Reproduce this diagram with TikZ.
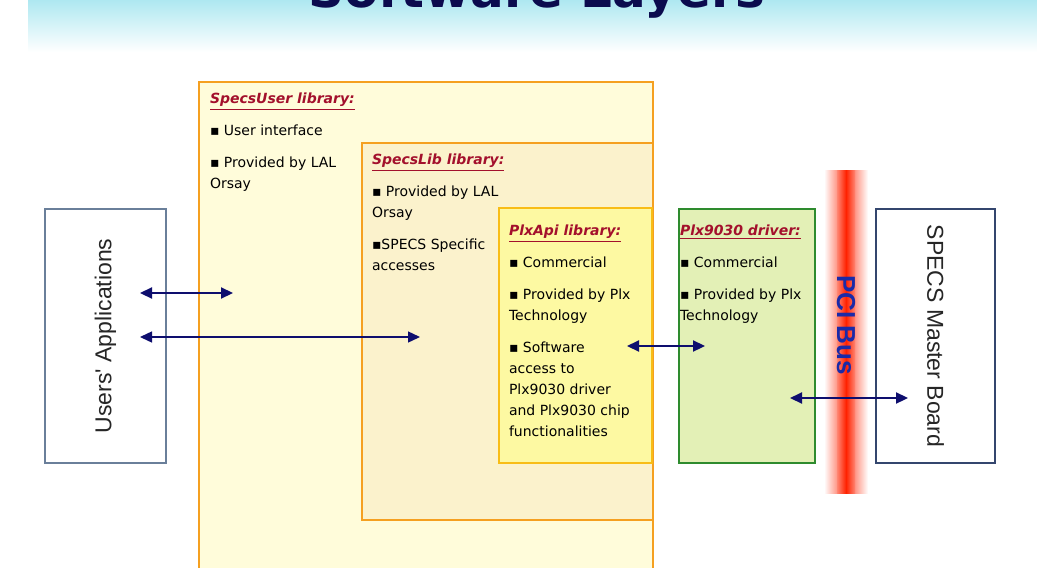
\documentclass[tikz,border=0pt]{standalone}
\usepackage{fontspec}
\setmainfont{DejaVu Sans}
\newfontfamily\boxfont{Liberation Sans}
\usepackage{xcolor}
\usetikzlibrary{arrows.meta, positioning}

\definecolor{headcyan}{HTML}{AEE8F1}
\definecolor{titlenavy}{HTML}{0B0B4E}
\definecolor{layerorange}{HTML}{F5A020}
\definecolor{userfill}{HTML}{FFFCDA}
\definecolor{libfill}{HTML}{FBF2CC}
\definecolor{plxfill}{HTML}{FDF9A2}
\definecolor{drvgreen}{HTML}{2E8B2E}
\definecolor{drvfill}{HTML}{E3F0B6}
\definecolor{titlered}{HTML}{A3102C}
\definecolor{arrownavy}{HTML}{0E0E6E}
\definecolor{pciblue}{HTML}{1A2AA8}
\definecolor{pcired}{HTML}{FF2200}
\definecolor{appsgray}{HTML}{6A7F9A}
\definecolor{boardnavy}{HTML}{34466E}

\newcommand{\layertitle}[1]{\textcolor{titlered}{\textbf{\textit{\underline{#1}}}}}

\begin{document}
\begin{tikzpicture}[
      x=0.5pt, y=-0.5pt,
      every node/.style={inner sep=0pt, outer sep=0pt},
      layer/.style={draw=layerorange, line width=1pt, anchor=north west},
      info/.style={anchor=north west, align=left, font=\fontsize{7}{10.5}\selectfont},
      endbox/.style={draw, fill=white, line width=0.6pt, font=\boxfont\fontsize{11.5}{12}\selectfont},
      link/.style={draw=arrownavy, line width=0.7pt,
        {Triangle[length=6pt,width=5.5pt]}-{Triangle[length=6pt,width=5.5pt]}}
    ]
      \useasboundingbox (0,0) rectangle (1037,567);

      % header band with the cut title
      \shade[top color=headcyan, bottom color=white] (28,0) rectangle (1037,52);
      \node[anchor=base, text=titlenavy, font=\bfseries\fontsize{25}{25}\selectfont] (title) at (537,8) {Software Layers};

      % end boxes
      \node[endbox, draw=appsgray, text=black!85, rotate=90, minimum width=127pt, minimum height=60.5pt] (userapps) at (105.5,336) {Users' Applications};
      \node[endbox, draw=boardnavy, text=black!85, rotate=-90, minimum width=127pt, minimum height=59.5pt] (masterboard) at (935.5,336) {SPECS Master Board};

      % software layers
      \node[layer, fill=userfill, minimum width=227pt, minimum height=259pt] (specsuser) at (199,82) {};
      \node[layer, fill=libfill, minimum width=145.5pt, minimum height=188.5pt] (specslib) at (362,143) {};
      \node[layer, draw=layerorange!70!yellow, line width=0.6pt, fill=plxfill, minimum width=76.5pt, minimum height=127.5pt] (plxapi) at (499,208) {};
      \node[layer, draw=drvgreen, line width=0.6pt, fill=drvfill, minimum width=68pt, minimum height=127pt] (plxdrv) at (679,209) {};

      \node[info] (usertext) at (210,93) {\layertitle{SpecsUser library:}\\[5.5pt]
        ▪ User interface\\[5.5pt]
        ▪ Provided by LAL\\ Orsay};
      \node[info] (libtext) at (372,154) {\layertitle{SpecsLib library:}\\[5.5pt]
        ▪ Provided by LAL\\ Orsay\\[5.5pt]
        ▪SPECS Specific\\ accesses};
      \node[info] (apitext) at (509,225) {\layertitle{PlxApi library:}\\[5.5pt]
        ▪ Commercial\\[5.5pt]
        ▪ Provided by Plx\\ Technology\\[5.5pt]
        ▪ Software\\ access to\\ Plx9030 driver\\ and Plx9030 chip\\ functionalities};
      \node[info] (drvtext) at (680,225) {\layertitle{Plx9030 driver:}\\[5.5pt]
        ▪ Commercial\\[5.5pt]
        ▪ Provided by Plx\\ Technology};

      % PCI bus
      \shade[left color=white, right color=white, middle color=pcired!80] (824,170) rectangle (868,493);
      \shade[left color=pcired!55, right color=pcired!55, middle color=pcired] (837,170) rectangle (855,493);
      \node[rotate=-90, text=pciblue, font=\boxfont\bfseries\fontsize{13}{13}\selectfont] (pcibus) at (846,325) {PCI Bus};

      % connectors
      \coordinate (ua1) at (140,293);
      \coordinate (su1) at (233,293);
      \coordinate (ua2) at (140,337);
      \coordinate (sl2) at (420,337);
      \coordinate (pa3) at (627,346);
      \coordinate (pd3) at (705,346);
      \coordinate (pd4) at (790,398);
      \coordinate (mb4) at (908,398);
      \draw[link, line width=1.1pt] (ua1) -- (su1);
      \draw[link] (ua2) -- (sl2);
      \draw[link, line width=1.1pt] (pa3) -- (pd3);
      \draw[link, line width=1.1pt] (pd4) -- (mb4);
    \end{tikzpicture}
\end{document}
